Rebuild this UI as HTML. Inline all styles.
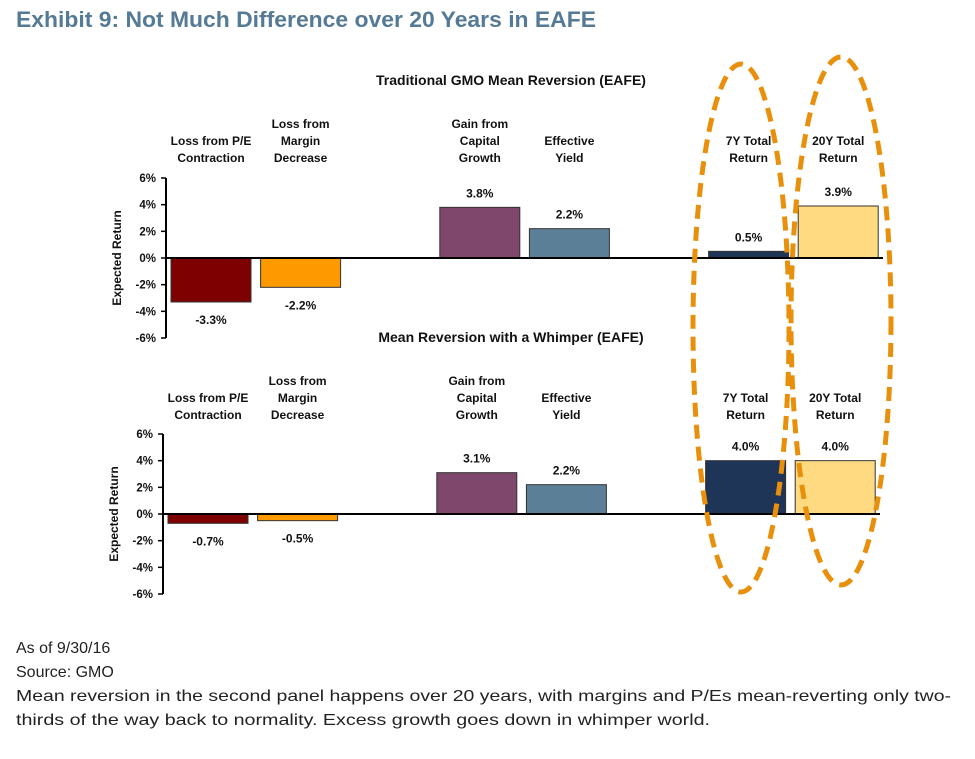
<!DOCTYPE html>
<html><head><meta charset="utf-8"><style>
body{margin:0;background:#fff;width:975px;height:754px;overflow:hidden;font-family:"Liberation Sans",sans-serif;}
</style></head><body>
<svg id="c" width="975" height="754" xmlns="http://www.w3.org/2000/svg" font-family="Liberation Sans, sans-serif">
<text x="16" y="27" font-size="22" font-weight="bold" fill="#557a95" textLength="580" lengthAdjust="spacingAndGlyphs">Exhibit 9: Not Much Difference over 20 Years in EAFE</text>
<g font-size="16" fill="#222">
<text x="16" y="653">As of 9/30/16</text>
<text x="16" y="677">Source: GMO</text>
<text x="16" y="701" textLength="935" lengthAdjust="spacingAndGlyphs">Mean reversion in the second panel happens over 20 years, with margins and P/Es mean-reverting only two-</text>
<text x="16" y="725" textLength="694" lengthAdjust="spacingAndGlyphs">thirds of the way back to normality. Excess growth goes down in whimper world.</text>
</g>
</svg>
<script>
const categories = [["Loss from P/E","Contraction"],["Loss from","Margin","Decrease"],["Gain from","Capital","Growth"],["Effective","Yield"],["7Y Total","Return"],["20Y Total","Return"]];
const slots = [0,1,3,4,6,7];
const colors = ["#7f0000","#ff9900","#7f476b","#5a7f96","#1f3557","#ffda80"];
const panel1Values = [-3.3,-2.2,3.8,2.2,0.5,3.9];
const panel2Values = [-0.7,-0.5,3.1,2.2,4.0,4.0];
const tickValues = [6,4,2,0,-2,-4,-6];
const panelTitles = ["Traditional GMO Mean Reversion (EAFE)","Mean Reversion with a Whimper (EAFE)"];
const svg = document.getElementById('c');
const NS = "http://www.w3.org/2000/svg";
function mk(tag, attrs, parent){const e=document.createElementNS(NS,tag);for(const k in attrs)e.setAttribute(k,attrs[k]);(parent||svg).appendChild(e);return e;}
function drawPanel(idx, values, axisX, zeroY, catBottom, titleY){
  const g = mk('g',{});
  
  
  const scale = 80/6;
  const y = v => zeroY - v*scale;
  const t = mk('text',{x:511,y:titleY,'font-size':14,'font-weight':'bold','text-anchor':'middle',fill:'#111'},g);
  t.textContent = panelTitles[idx];
  
  
  const ax = mk('line',{x1:axisX,x2:axisX,y1:y(6),y2:y(-6),stroke:'#000','stroke-width':2},g);
  
  
  tickValues.forEach(v=>{
    mk('line',{x1:axisX-5,x2:axisX,y1:y(v),y2:y(v),stroke:'#000','stroke-width':1.5},g);
    const tl = mk('text',{x:axisX-10,y:y(v)+4,'font-size':11.5,'font-weight':'bold','text-anchor':'end',fill:'#111'},g);
    tl.textContent = v+'%';
    
    
  });
  const yt = mk('text',{x:0,y:0,'font-size':12,'font-weight':'bold','text-anchor':'middle',fill:'#111',transform:`translate(${axisX-45},${zeroY}) rotate(-90)`},g);
  yt.textContent = 'Expected Return';
  
  
  const step = 89.6, bw = 80, x0 = axisX+5;
  values.forEach((v,i)=>{
    const bx = x0 + slots[i]*step;
    const top = Math.min(y(v), zeroY), h = Math.abs(y(v)-zeroY);
    const r = mk('rect',{x:bx,y:top,width:bw,height:Math.max(h,1),fill:colors[i],stroke:'#333','stroke-width':1},g);
    
    
    const lbl = mk('text',{x:bx+bw/2,y: v>=0 ? top-10 : y(v)+22,'font-size':12,'font-weight':'bold','text-anchor':'middle',fill:'#111'},g);
    lbl.textContent = v.toFixed(1)+'%';
    
    
    const lines = categories[i];
    lines.forEach((s,j)=>{
      const c = mk('text',{x:bx+bw/2,y:catBottom-(lines.length-1-j)*17,'font-size':12,'font-weight':'bold','text-anchor':'middle',fill:'#111'},g);
      c.textContent = s;
      
      
    });
  });
  const z = mk('line',{x1:axisX,x2:axisX+717,y1:zeroY,y2:zeroY,stroke:'#000','stroke-width':2},g);
  
  
}
drawPanel(0, panel1Values, 166, 258, 162, 85);
drawPanel(1, panel2Values, 163, 514, 419, 342);
const e1 = mk('ellipse',{cx:741,cy:328,rx:48,ry:264,fill:'none',stroke:'#e8900c','stroke-width':5,'stroke-dasharray':'14 8'});


const e2 = mk('ellipse',{cx:841,cy:321,rx:50,ry:264,fill:'none',stroke:'#e8900c','stroke-width':5,'stroke-dasharray':'14 8'});


</script>
</body></html>
